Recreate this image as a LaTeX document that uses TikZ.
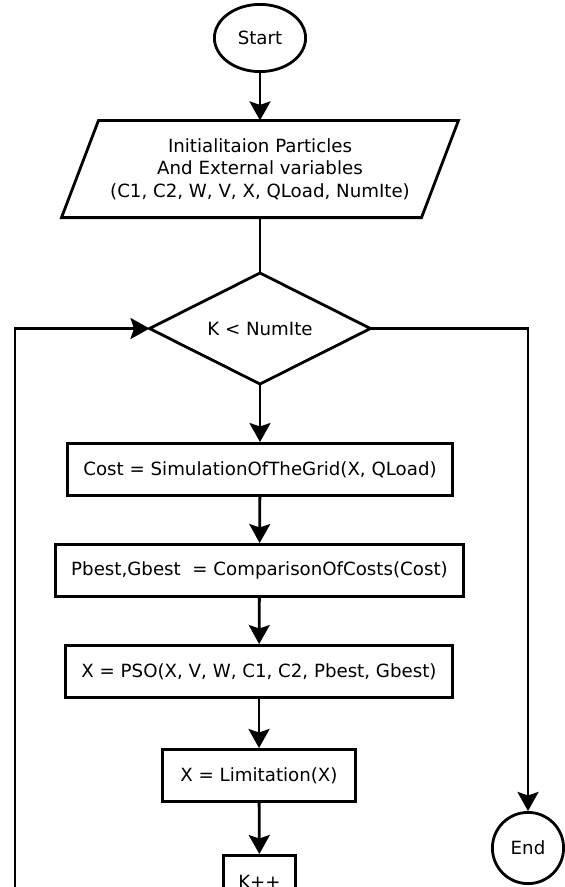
\documentclass[tikz,border=0pt]{standalone}
\usepackage{fontspec}
\setmainfont{DejaVu Sans}
\usetikzlibrary{shapes.geometric,arrows.meta,calc}

\begin{document}
\begin{tikzpicture}[x=1pt,y=1pt,
  every node/.style={font=\fontsize{18.2}{22.5}\selectfont, inner sep=0pt},
  lw/.style={line width=2.8pt},
  box/.style={draw, lw, rectangle, minimum height=52.2pt},
  terminal/.style={draw, lw, ellipse},
  decision/.style={draw, lw, diamond, shape aspect=2, minimum width=221pt, minimum height=111pt},
  flow/.style={lw, -{Stealth[length=19pt,width=21pt,inset=3.5pt]}},
  link/.style={lw}]
\useasboundingbox (0,0) rectangle (565,-887);
\clip (0,0) rectangle (565,-887);

% terminals
\node[terminal, minimum width=91.2pt, minimum height=67.2pt] (start) at (260,-38) {Start};

% input block (parallelogram drawn round an invisible node)
\node[minimum width=360pt, minimum height=97.2pt, outer sep=0pt, align=center] (init) at (260,-169)
  {Initialitaion Particles\\And External variables\\(C1, C2, W, V, X, QLoad, NumIte)};
\draw[lw, line join=miter]
  ($(init.north west)+(18.5,0)$) -- ($(init.north east)+(18.5,0)$) --
  ($(init.south east)+(-18.5,0)$) -- ($(init.south west)+(-18.5,0)$) -- cycle;

% loop test
\node[decision, outer sep=0pt] (test) at (260,-328.5) {K < NumIte};

% loop body
\node[box, minimum width=385.2pt] (cost)  at (260,-469.5) {Cost = SimulationOfTheGrid(X, QLoad)};
\node[box, minimum width=408.2pt] (best)  at (259.5,-570.5) {Pbest,Gbest\ \ = ComparisonOfCosts(Cost)};
\node[box, minimum width=387.2pt] (pso)   at (259,-671.5) {X = PSO(X, V, W, C1, C2, Pbest, Gbest)};
\node[box, minimum width=193.2pt] (limit) at (259,-775.5) {X = Limitation(X)};
\node[box, minimum width=72.2pt]  (inc)   at (259.5,-881.5) {K++};

\node[terminal, circle, minimum size=71.2pt] (end) at (528,-848) {End};

% connectors
\draw[flow] (start) -- (init.north -| start);
\draw[link] (init.south) -- (test.north);
\draw[flow] (test.south) -- (cost.north);
\draw[flow] (cost) -- (best);
\draw[flow] (best) -- (pso);
\draw[flow] (pso) -- (limit);
\draw[flow] (limit) -- (inc);
\coordinate (back) at (15,-940);
\draw[flow] (inc.south) |- (back) |- (test.west);
\draw[flow] (test.east) -| (end.north);
\end{tikzpicture}
\end{document}
